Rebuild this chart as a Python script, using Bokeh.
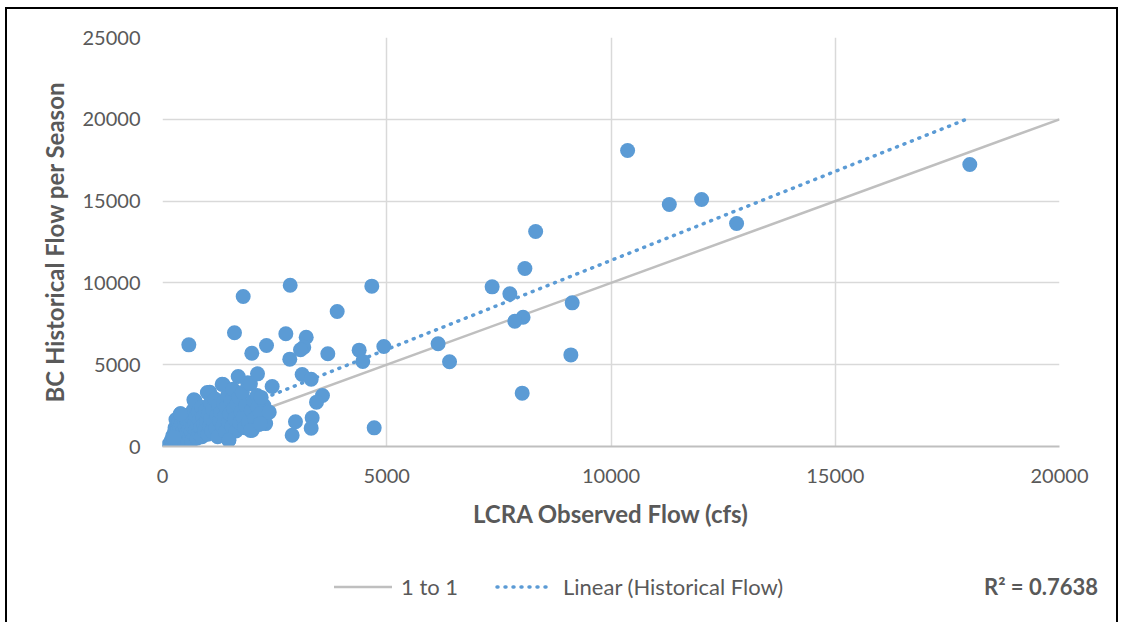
from bokeh.plotting import figure
from bokeh.layouts import column
from bokeh.models import Range1d, FixedTicker, Div
from bokeh.embed import file_html
from bokeh.resources import INLINE

# Seasonal flows: LCRA observed (cfs) vs. BC historical per season
lcra_observed = [
    10370, 18000, 11300, 12020, 12800, 8320,
    8080, 7350, 7745, 8040, 7855, 9135, 6145, 6400, 9105, 8020,
    2847, 4667, 1799, 3895, 587, 1605, 2750, 3204, 2319, 1991, 3150, 3077, 2838,
    3686, 4385, 4466, 4935, 3114, 3315, 2445, 2118, 1688, 1353, 3567, 3434,
    2965, 3337, 3315, 2891, 4720, 721, 1055, 2110, 2260,
    120, 150, 170, 180, 200, 210, 220, 230, 240, 250, 260, 270, 280, 290, 300,
    310, 320, 330, 340, 350, 360, 370, 380, 390, 400, 410, 420, 430, 440, 450,
    460, 470, 480, 490, 500, 510, 520, 530, 540, 550, 560, 580, 590, 600, 610,
    620, 640, 650, 660, 680, 690, 700, 710, 720, 740, 750, 770, 780, 800, 810,
    830, 850, 870, 880, 900, 920, 940, 960, 980, 1000, 1010, 1030, 1050, 1070,
    1080, 1100, 1120, 1150, 1170, 1190, 1210, 1230, 1250, 1270, 1300, 1330,
    1340, 1360, 1380, 1400, 1420, 1450, 1470, 1480, 1500, 1530, 1550, 1570,
    1590, 1610, 1640, 1660, 1700, 1720, 1750, 1780, 1800, 1830, 1860, 1900,
    1920, 1960, 1980, 2000, 2030, 2060, 2111, 2130, 2150, 2180, 2200, 2300,
    2380, 1962, 2185, 401, 252, 1479,
]
bc_historical = [
    18090, 17240, 14790, 15100, 13630, 13140,
    10880, 9760, 9330, 7900, 7660, 8780, 6280, 5180, 5600, 3260,
    9860, 9800, 9170, 8250, 6215, 6950, 6890, 6680, 6170, 5700, 6070, 5910, 5340,
    5670, 5890, 5200, 6110, 4400, 4115, 3670, 4440, 4280, 3790, 3120, 2710,
    1510, 1750, 1120, 690, 1140, 2810, 3320, 3010, 2510,
    50, 120, 30, 260, 400, 80, 10, 650, 150, 570, 300, 900, 1150, 180, 1650,
    450, 760, 1300, 220, 980, 1500, 600, 350, 1100, 2000, 800, 1450, 150, 1250, 500,
    1750, 1000, 300, 1350, 700, 1900, 1150, 420, 1600, 850, 250, 1300, 1050, 1950, 600,
    1500, 900, 350, 1700, 1200, 2250, 2850, 700, 1450, 1000, 1900, 500, 1300, 2100, 850,
    1600, 1150, 2400, 600, 1800, 1350, 950, 2200, 1550, 3300, 750, 2000, 1250, 2650,
    1700, 950, 2300, 1450, 2900, 1100, 1900, 600, 2500, 1600, 2100, 3800,
    1250, 2700, 1800, 900, 2400, 3100, 1500, 400, 2000, 2800, 1200, 3500,
    2300, 1700, 950, 2600, 3000, 1450, 2100, 3300, 1800, 1150, 2500, 3900,
    1500, 3830, 2200, 1000, 2800, 1700, 3120, 2400, 1350, 2000, 3000, 1400,
    2100, 980, 1390, 2000, 570, 370,
]

x_ticks = [0, 5000, 10000, 15000, 20000]
y_ticks = [0, 5000, 10000, 15000, 20000, 25000]

one_to_one = [0, 20000]
trend_slope = 1.0885
trend_intercept = 489
legend_labels = ["1 to 1", "Linear (Historical Flow)"]
r_squared_text = "R\u00b2 = 0.7638"

BLUE = "#5B9BD5"
LINE_GRAY = "#BFBFBF"
GRAY_TEXT = "#595959"
FONT = "Lato"
DOTS = "1 7"

# ---- main scatter chart ----
p = figure(
    width=1123, height=560, output_backend="svg", toolbar_location=None,
    x_range=Range1d(0, 20000), y_range=Range1d(0, 25000),
    min_border_left=162, min_border_right=64, min_border_top=37, min_border_bottom=114,
)
p.outline_line_color = None
p.background_fill_color = "white"
p.border_fill_color = None

for ax in (p.xaxis, p.yaxis):
    ax.major_tick_line_color = None
    ax.minor_tick_line_color = None
    ax.major_tick_in = 0
    ax.major_tick_out = 0
    ax.major_label_text_font = FONT
    ax.major_label_text_font_size = "20px"
    ax.major_label_text_color = GRAY_TEXT
    ax.axis_label_text_font = FONT
    ax.axis_label_text_font_size = "24px"
    ax.axis_label_text_font_style = "bold"
    ax.axis_label_text_color = GRAY_TEXT

p.xaxis.ticker = FixedTicker(ticks=x_ticks)
p.yaxis.ticker = FixedTicker(ticks=y_ticks)
p.xaxis.axis_label = "LCRA Observed Flow (cfs)"
p.yaxis.axis_label = "BC Historical Flow per Season"
p.xaxis.axis_line_color = LINE_GRAY
p.xaxis.axis_line_width = 2
p.yaxis.axis_line_color = None
p.xaxis.major_label_standoff = 22
p.yaxis.major_label_standoff = 22
p.xaxis.axis_label_standoff = 13
p.yaxis.axis_label_standoff = 11

p.grid.grid_line_color = "#D9D9D9"
p.grid.grid_line_width = 1.5

# 1:1 reference line and linear fit
p.line(one_to_one, one_to_one, line_color=LINE_GRAY, line_width=2.5)
trend_x = [min(lcra_observed), max(lcra_observed)]
trend_y = [trend_intercept + trend_slope * v for v in trend_x]
p.line(trend_x, trend_y, line_color=BLUE, line_width=3.5, line_dash=DOTS, line_cap="round")

p.scatter(lcra_observed, bc_historical, size=15, fill_color=BLUE, line_color=None)

# ---- legend strip below the chart ----
solid_sample = (
    '<svg style="position:absolute;left:334px;top:22px" width="58" height="10">'
    f'<line x1="0" y1="5" x2="58" y2="5" stroke="{LINE_GRAY}" stroke-width="2.5"/></svg>'
)
dotted_sample = (
    '<svg style="position:absolute;left:495px;top:22px" width="60" height="10">'
    f'<line x1="2" y1="5" x2="58" y2="5" stroke="{BLUE}" stroke-width="3.5" '
    f'stroke-dasharray="{DOTS}" stroke-linecap="round"/></svg>'
)
strip_html = (
    f'<div style="position:relative;width:1123px;height:62px;font-family:{FONT};'
    f'font-size:22px;color:{GRAY_TEXT};line-height:26px;white-space:nowrap">'
    + solid_sample
    + f'<span style="position:absolute;left:401px;top:14px">{legend_labels[0]}</span>'
    + dotted_sample
    + f'<span style="position:absolute;left:563px;top:14px">{legend_labels[1]}</span>'
    + f'<span style="position:absolute;right:25px;top:14px;font-weight:bold">{r_squared_text}</span>'
    + '</div>'
)
strip = Div(text=strip_html, width=1123, height=62, margin=0)

# chart border drawn as inset shadows of the container
layout = column(
    p, strip, spacing=0,
    styles={
        "background": "white",
        "box-shadow": ("inset 5px 0 0 0 white, inset -5px 0 0 0 white, inset 0 7px 0 0 white, "
                       "inset 7px 0 0 0 black, inset -7px 0 0 0 black, inset 0 9px 0 0 black"),
    },
)

open("out.html", "w").write(file_html(layout, INLINE))
